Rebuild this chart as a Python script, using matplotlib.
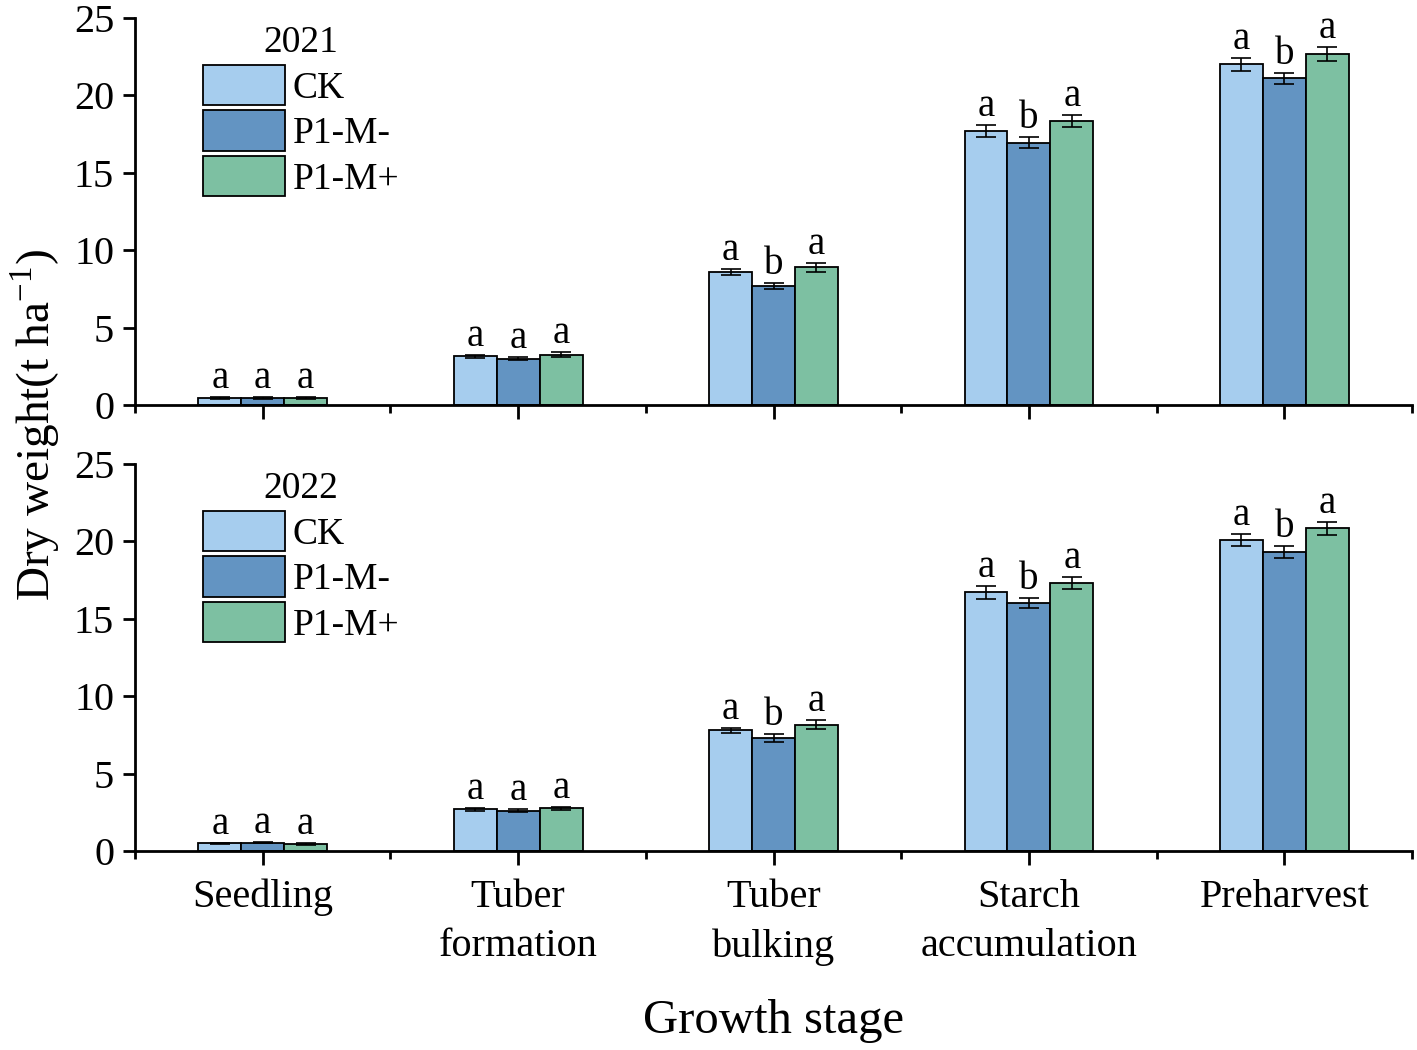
import matplotlib
matplotlib.use("Agg")
import matplotlib.pyplot as plt
import numpy as np
from matplotlib.ticker import MultipleLocator, FixedLocator

plt.rcParams['font.family'] = ['Liberation Serif', 'DejaVu Serif']
plt.rcParams['mathtext.fontset'] = 'custom'
plt.rcParams['mathtext.rm'] = 'Liberation Serif'

stages = ["Seedling", "Tuber\nformation", "Tuber\nbulking", "Starch\naccumulation", "Preharvest"]
treatments = ["CK", "P1-M-", "P1-M+"]
colors = ["#a6cdee", "#6394c2", "#7dc0a2"]

# 2021
y2021_ck = [0.45, 3.15, 8.6, 17.7, 22.0]
y2021_m = [0.45, 3.0, 7.7, 16.95, 21.1]
y2021_p = [0.45, 3.25, 8.9, 18.35, 22.7]
e2021_ck = [0.05, 0.1, 0.2, 0.4, 0.4]
e2021_m = [0.05, 0.1, 0.2, 0.35, 0.35]
e2021_p = [0.05, 0.15, 0.3, 0.4, 0.45]
l2021_ck = ["a", "a", "a", "a", "a"]
l2021_m = ["a", "a", "b", "b", "b"]
l2021_p = ["a", "a", "a", "a", "a"]

# 2022
y2022_ck = [0.5, 2.7, 7.8, 16.7, 20.1]
y2022_m = [0.55, 2.6, 7.3, 16.0, 19.3]
y2022_p = [0.45, 2.75, 8.15, 17.3, 20.85]
e2022_ck = [0.05, 0.1, 0.15, 0.4, 0.4]
e2022_m = [0.05, 0.1, 0.25, 0.32, 0.4]
e2022_p = [0.05, 0.1, 0.3, 0.37, 0.42]
l2022_ck = ["a", "a", "a", "a", "a"]
l2022_m = ["a", "a", "b", "b", "b"]
l2022_p = ["a", "a", "a", "a", "a"]

fig = plt.figure(figsize=(14.17, 10.5), dpi=100)
ax1 = fig.add_axes([0.0953, 0.6143, 0.9012, 0.3686])
ax2 = fig.add_axes([0.0953, 0.1895, 0.9012, 0.3686])

def draw(ax, vals, errs, lets, year, show_labels):
    x = np.arange(len(stages))
    w = 0.168
    handles = []
    for i, (v, e, l, c, t) in enumerate(zip(vals, errs, lets, colors, treatments)):
        xs = x + (i - 1) * w
        b = ax.bar(xs, v, width=w, color=c, edgecolor="black", linewidth=1.3,
                   label=t, zorder=2)
        handles.append(b)
        ax.errorbar(xs, v, yerr=e, fmt="none", ecolor="black", elinewidth=1.2,
                    capsize=7, capthick=1.2, zorder=3)
        for xi, vi, ei, li in zip(xs, v, e, l):
            ax.annotate(li, (xi, vi + ei), xytext=(0, 0), textcoords="offset points",
                        ha="center", va="bottom", fontsize=28)
    ax.set_xlim(-0.5, 4.5)
    ax.set_ylim(0, 25)
    ax.yaxis.set_major_locator(MultipleLocator(5))
    ax.xaxis.set_major_locator(FixedLocator(x))
    ax.xaxis.set_minor_locator(FixedLocator(np.arange(-0.5, 5.0, 1.0)))
    for s in ["top", "right"]:
        ax.spines[s].set_visible(False)
    for s in ["left", "bottom"]:
        ax.spines[s].set_linewidth(2.0)
    ax.tick_params(axis="y", direction="out", length=9, width=2, labelsize=29, pad=6)
    ax.tick_params(axis="x", which="major", direction="out", length=10, width=2, labelsize=29, pad=10)
    ax.tick_params(axis="x", which="minor", direction="out", length=6, width=2)
    if show_labels:
        ax.set_xticklabels(stages, linespacing=1.45)
    else:
        ax.set_xticklabels([])
    leg = ax.legend(handles=handles, labels=treatments, title=year, loc="upper left",
                    bbox_to_anchor=(0.05, 0.99), frameon=False, fontsize=27,
                    title_fontsize=27, handlelength=2.2, handleheight=1.3,
                    labelspacing=0.12, handletextpad=0.2, borderaxespad=0.0,
                    borderpad=0.1)
    for p in leg.get_patches():
        p.set_edgecolor("black")
        p.set_linewidth(1.3)

draw(ax1, [y2021_ck, y2021_m, y2021_p], [e2021_ck, e2021_m, e2021_p],
     [l2021_ck, l2021_m, l2021_p], "2021", False)
draw(ax2, [y2022_ck, y2022_m, y2022_p], [e2022_ck, e2022_m, e2022_p],
     [l2022_ck, l2022_m, l2022_p], "2022", True)

fig.text(0.025, 0.595, r"Dry weight(t ha$^{\mathregular{-1}}$)", rotation=90,
         ha="center", va="center", fontsize=34)
fig.text(0.546, 0.028, "Growth stage", ha="center", va="center", fontsize=35)

fig.savefig("out.png", dpi=100)
